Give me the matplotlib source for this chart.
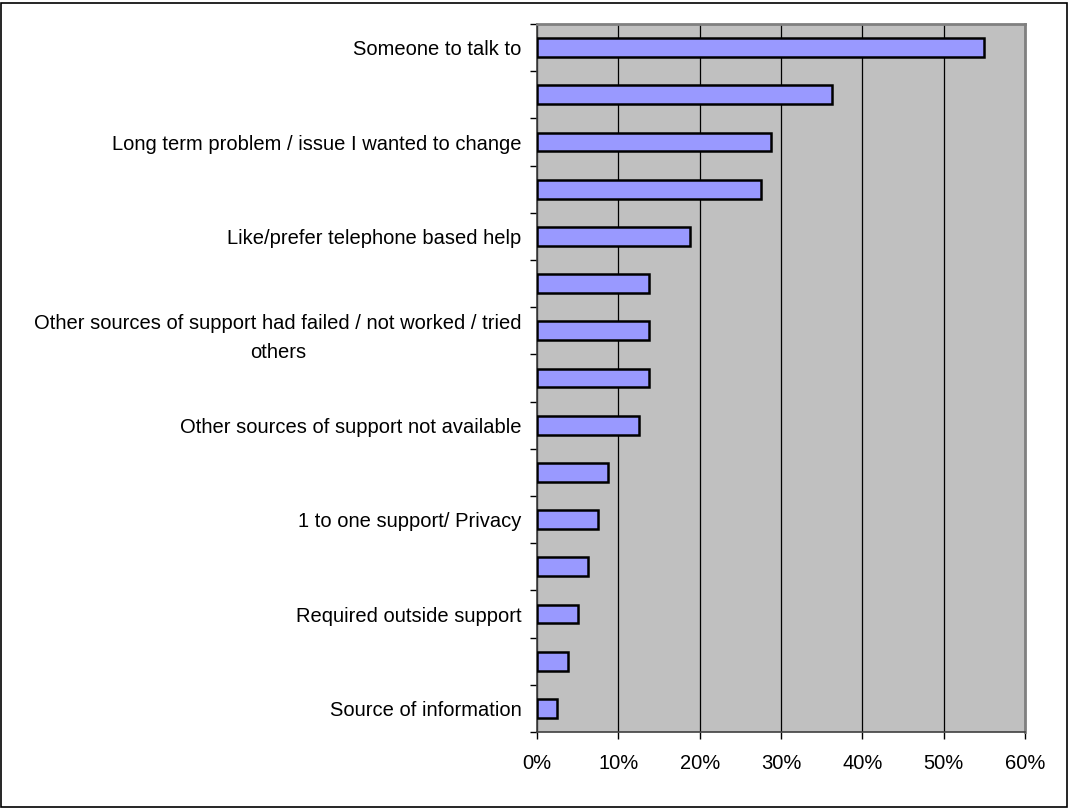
import numpy as np
import matplotlib as mpl
mpl.use('Agg')
import matplotlib.pyplot as plt
from matplotlib.ticker import PercentFormatter

plt.rcParams['font.family'] = ['Liberation Sans', 'DejaVu Sans']

# categories top to bottom (only every other one is labelled in the original)
labels = ['Someone to talk to', '',
          'Long term problem / issue I wanted to change', '',
          'Like/prefer telephone based help', '',
          'Other sources of support had failed / not worked / tried\nothers', '',
          'Other sources of support not available', '',
          '1 to one support/ Privacy', '',
          'Required outside support', '',
          'Source of information']
values = [55.0, 36.25, 28.75, 27.5, 18.75, 13.75, 13.75, 13.75,
          12.5, 8.75, 7.5, 6.25, 5.0, 3.75, 2.5]
xticks = [0, 10, 20, 30, 40, 50, 60]

fig = plt.figure(figsize=(10.69, 8.08), dpi=100)
ax = fig.add_axes([537 / 1069, 1 - 732 / 808, (1025 - 537) / 1069, (732 - 24) / 808])

# outer chart border
fig.patches.append(plt.Rectangle((0.001, 0.001), 0.997, 0.995, transform=fig.transFigure,
                                 fill=False, edgecolor='black', linewidth=1.2))

n = len(values)
y = np.arange(n)
ax.set_facecolor('#C0C0C0')
ax.barh(y, values, height=0.4, color='#9999FF', edgecolor='black', linewidth=1.8, zorder=3)

ax.set_xlim(0, 60)
ax.set_ylim(n - 0.5, -0.5)
ax.set_xticks(xticks)
ax.xaxis.set_major_formatter(PercentFormatter(decimals=0))
ax.xaxis.grid(True, color='black', linewidth=0.9, zorder=1)
ax.set_axisbelow(True)

ax.set_yticks(y)
ax.set_yticklabels(labels, multialignment='center', linespacing=1.65)
ax.set_yticks(np.arange(n + 1) - 0.5, minor=True)
ax.tick_params(axis='y', which='major', length=0, pad=11, labelsize=14.5)
ax.tick_params(axis='y', which='minor', length=5, width=1)
ax.tick_params(axis='x', length=5, width=1, pad=11, labelsize=14.5)

for side in ['top', 'right']:
    ax.spines[side].set_color('#808080')
    ax.spines[side].set_linewidth(2)
for side in ['left', 'bottom']:
    ax.spines[side].set_color('#404040')
    ax.spines[side].set_linewidth(1.2)

fig.savefig('out.png', dpi=100)
